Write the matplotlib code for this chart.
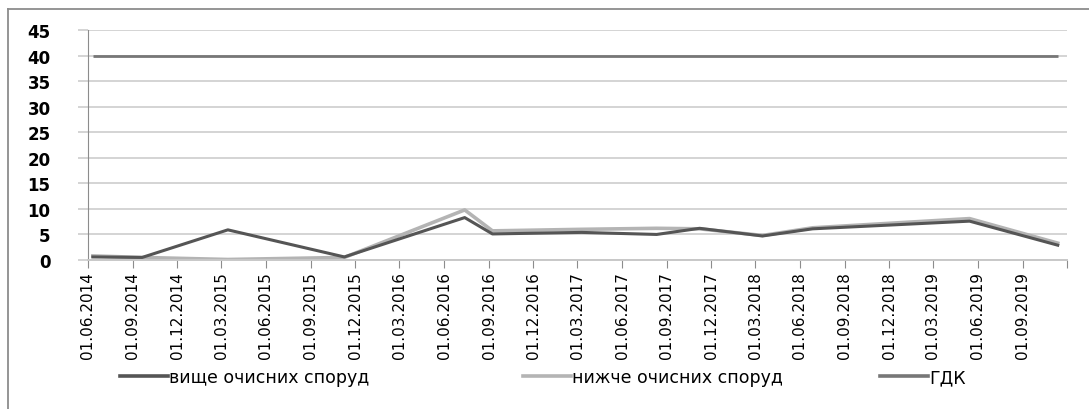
import numpy as np
import pandas as pd
import matplotlib
matplotlib.use("Agg")
import matplotlib.pyplot as plt
from matplotlib.lines import Line2D

# sampling dates and concentrations
dates = pd.to_datetime(['2014-06-11', '2014-09-20', '2015-03-15', '2015-11-09',
                        '2016-07-13', '2016-09-08', '2017-03-10', '2017-08-11',
                        '2017-11-07', '2018-03-16', '2018-06-27', '2019-05-15',
                        '2019-11-12'])
upstream = [0.6, 0.5, 5.9, 0.6, 8.3, 5.1, 5.4, 5.0, 6.2, 4.7, 6.1, 7.6, 2.9]
downstream = [0.8, 0.5, 0.1, 0.5, 9.8, 5.7, 6.0, 6.2, 6.1, 4.8, 6.3, 8.1, 3.3]
gdk = [40] * len(dates)

labels = ['вище очисних споруд', 'нижче очисних споруд', 'ГДК']
colors = ['#555555', '#b4b4b4', '#777777']

fig = plt.figure(figsize=(10.89, 4.10), dpi=100)
ax = fig.add_axes([88/1089, 1 - 261/410, (1067 - 88)/1089, (261 - 31)/410])

ax.plot(dates, gdk, color=colors[2], lw=2.0, solid_capstyle='butt')
ax.plot(dates, downstream, color=colors[1], lw=2.6)
ax.plot(dates, upstream, color=colors[0], lw=2.2)

ax.set_ylim(0, 45)
ax.set_yticks(np.arange(0, 46, 5))
ax.set_xlim(pd.Timestamp('2014-06-01'), pd.Timestamp('2019-12-01'))

ticks = pd.date_range('2014-06-01', '2019-12-01', freq='3MS')
ax.set_xticks(ticks)
ax.set_xticklabels([t.strftime('%d.%m.%Y') for t in ticks[:-1]] + [''],
                   rotation=90, fontsize=11)
for lab in ax.get_yticklabels():
    lab.set_fontweight('bold')
    lab.set_fontsize(12)

ax.grid(axis='y', color='#d4d4d4', lw=1.4)
ax.set_axisbelow(True)
for s in ['top', 'right']:
    ax.spines[s].set_visible(False)
ax.spines['left'].set_color('#8c8c8c')
ax.spines['bottom'].set_color('#c8c8c8')
ax.spines['bottom'].set_linewidth(1.4)
ax.tick_params(axis='y', length=7, color='#d4d4d4', width=1.4, pad=20)
ax.tick_params(axis='x', length=6, color='#8c8c8c', pad=2)

# legend entries, each placed at its own x position
legend_x = [120, 523, 880]
for lab, c, x in zip(labels, colors, legend_x):
    leg = fig.legend([Line2D([], [], color=c, lw=2.6)], [lab], loc='center left',
                     bbox_to_anchor=(x/1089, 1 - 378/410), frameon=False, fontsize=12.5,
                     handlelength=2.75, handletextpad=0.1, borderpad=0, borderaxespad=0)

# outer frame (top and left edges)
fig.add_artist(Line2D([8/1089, 1.0], [1 - 10/410, 1 - 10/410], color='#8c8c8c', lw=1.3))
fig.add_artist(Line2D([8/1089, 8/1089], [0, 1 - 10/410], color='#8c8c8c', lw=1.3))

fig.savefig('out.png', dpi=100)
